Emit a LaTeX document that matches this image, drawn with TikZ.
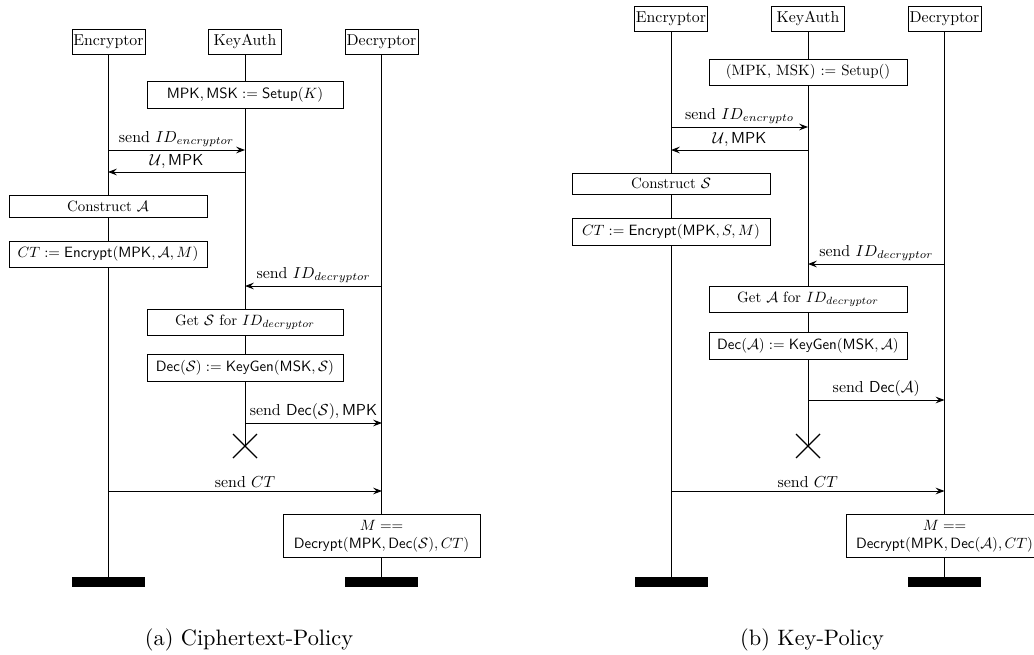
\documentclass[tikz,border=0pt]{standalone}
\usetikzlibrary{arrows.meta}
\newdimen\px \px=0.4525pt
% text is set at 10pt and shrunk, so every glyph keeps its 10pt design
\newcommand\hd[1]{\scalebox{0.715}{#1}}
\newcommand\bx[1]{\scalebox{0.675}{#1}}
\newcommand\lb[1]{\scalebox{0.72}{#1}}
\tikzset{
  actor/.style={draw, fill=white, minimum width=73\px, minimum height=25\px, inner sep=0pt},
  act/.style={draw, fill=white, inner sep=0pt, align=center},
  endbar/.style={fill=black, draw=none, minimum width=73\px, minimum height=10\px, inner sep=0pt},
  life/.style={line width=0.45pt},
  msg/.style={line width=0.45pt, -{Stealth[length=4pt,width=3pt,inset=1.4pt]}},
  lbl/.style={above, inner sep=1.2pt},
  subcaption/.style={font=\fontsize{10.1}{12}\selectfont},
}
\begin{document}
\begin{tikzpicture}[x=\px, y=-\px]
\useasboundingbox (0,0) rectangle (1034,655);

% ---------------- (a) Ciphertext-Policy ----------------
\node[actor] (encA) at (108.5,41.5) {\hd{Encryptor}};
\node[actor] (kaA)  at (245,41.5)   {\hd{KeyAuth}};
\node[actor] (decA) at (381.5,41.5) {\hd{Decryptor}};
\node[endbar] (encAend) at (108.5,582) {};
\node[endbar] (decAend) at (381.5,582) {};
\coordinate (kaAx) at (245,446);

\draw[life] (encA.south) -- (encAend.north);
\draw[life] (decA.south) -- (decAend.north);
\draw[life] (kaA.south) -- (kaAx);
\draw[line width=0.5pt] (kaAx) ++(-12,-12) -- ++(24,24) (kaAx) ++(12,-12) -- ++(-24,24);

\node[act, minimum width=196\px, minimum height=27\px] (setupA) at (245,94.5)
  {\bx{$\mathsf{MPK}, \mathsf{MSK} := \mathsf{Setup}(K)$}};
\node[act, minimum width=198\px, minimum height=22\px] (constrA) at (108,206)
  {\bx{Construct $\mathcal{A}$}};
\node[act, minimum width=198\px, minimum height=26\px] (encryptA) at (108,254)
  {\bx{$CT := \mathsf{Encrypt}(\mathsf{MPK}, \mathcal{A}, M)$}};
\node[act, minimum width=196\px, minimum height=26\px] (getA) at (245,322)
  {\bx{Get $\mathcal{S}$ for $ID_{decryptor}$}};
\node[act, minimum width=196\px, minimum height=27\px] (keygenA) at (245,367.5)
  {\bx{$\mathsf{Dec}(\mathcal{S}) := \mathsf{KeyGen}(\mathsf{MSK}, \mathcal{S})$}};
\node[act, minimum width=197\px, minimum height=43\px] (decryptA) at (381.5,535.5)
  {\bx{\begin{tabular}{@{}c@{}}$M ==$\\ $\mathsf{Decrypt}(\mathsf{MPK}, \mathsf{Dec}(\mathcal{S}), CT)$\end{tabular}}};

\coordinate (a1s) at (108,150); \coordinate (a1e) at (245,150);
\coordinate (a2s) at (245,172); \coordinate (a2e) at (108,172);
\coordinate (a3s) at (382,286); \coordinate (a3e) at (245,286);
\coordinate (a4s) at (245,423); \coordinate (a4e) at (382,423);
\coordinate (a5s) at (108,491); \coordinate (a5e) at (382,491);
\draw[msg] (a1s) -- node[lbl] {\lb{send $ID_{encryptor}$}} (a1e);
\draw[msg] (a2s) -- node[lbl] {\lb{$\mathcal{U}, \mathsf{MPK}$}} (a2e);
\draw[msg] (a3s) -- node[lbl] {\lb{send $ID_{decryptor}$}} (a3e);
\draw[msg] (a4s) -- node[lbl] {\lb{send $\mathsf{Dec}(\mathcal{S}), \mathsf{MPK}$}} (a4e);
\draw[msg] (a5s) -- node[lbl] {\lb{send $CT$}} (a5e);

\node[subcaption] (capA) at (249,640) {(a) Ciphertext-Policy};

% ---------------- (b) Key-Policy ----------------
\node[actor] (encB) at (671,18.5) {\hd{Encryptor}};
\node[actor] (kaB)  at (808,18.5) {\hd{KeyAuth}};
\node[actor] (decB) at (944.5,18.5) {\hd{Decryptor}};
\node[endbar] (encBend) at (671,582) {};
\node[endbar] (decBend) at (944.5,582) {};
\coordinate (kaBx) at (808,446);

\draw[life] (encB.south) -- (encBend.north);
\draw[life] (decB.south) -- (decBend.north);
\draw[life] (kaB.south) -- (kaBx);
\draw[line width=0.5pt] (kaBx) ++(-12,-12) -- ++(24,24) (kaBx) ++(12,-12) -- ++(-24,24);

\node[act, minimum width=198\px, minimum height=26\px] (setupB) at (808,72)
  {\bx{(MPK, MSK) := Setup()}};
\node[act, minimum width=198\px, minimum height=21\px] (constrB) at (671,183.5)
  {\bx{Construct $\mathcal{S}$}};
\node[act, minimum width=198\px, minimum height=27\px] (encryptB) at (671,231.5)
  {\bx{$CT := \mathsf{Encrypt}(\mathsf{MPK}, S, M)$}};
\node[act, minimum width=198\px, minimum height=26\px] (getB) at (808,299)
  {\bx{Get $\mathcal{A}$ for $ID_{decryptor}$}};
\node[act, minimum width=198\px, minimum height=27\px] (keygenB) at (808,345.5)
  {\bx{$\mathsf{Dec}(\mathcal{A}) := \mathsf{KeyGen}(\mathsf{MSK}, \mathcal{A})$}};
\node[act, minimum width=197\px, minimum height=43\px] (decryptB) at (944.5,535.5)
  {\bx{\begin{tabular}{@{}c@{}}$M ==$\\ $\mathsf{Decrypt}(\mathsf{MPK}, \mathsf{Dec}(\mathcal{A}), CT)$\end{tabular}}};

\coordinate (b1s) at (671,127); \coordinate (b1e) at (808,127);
\coordinate (b2s) at (808,150); \coordinate (b2e) at (671,150);
\coordinate (b3s) at (944.5,264); \coordinate (b3e) at (808,264);
\coordinate (b4s) at (808,400); \coordinate (b4e) at (944.5,400);
\coordinate (b5s) at (671,491); \coordinate (b5e) at (944.5,491);
\draw[msg] (b1s) -- node[lbl] {\lb{send $ID_{encrypto}$}} (b1e);
\draw[msg] (b2s) -- node[lbl] {\lb{$\mathcal{U}, \mathsf{MPK}$}} (b2e);
\draw[msg] (b3s) -- node[lbl] {\lb{send $ID_{decryptor}$}} (b3e);
\draw[msg] (b4s) -- node[lbl] {\lb{send $\mathsf{Dec}(\mathcal{A})$}} (b4e);
\draw[msg] (b5s) -- node[lbl] {\lb{send $CT$}} (b5e);

\node[subcaption] (capB) at (812,640) {(b) Key-Policy};
\end{tikzpicture}
\end{document}
